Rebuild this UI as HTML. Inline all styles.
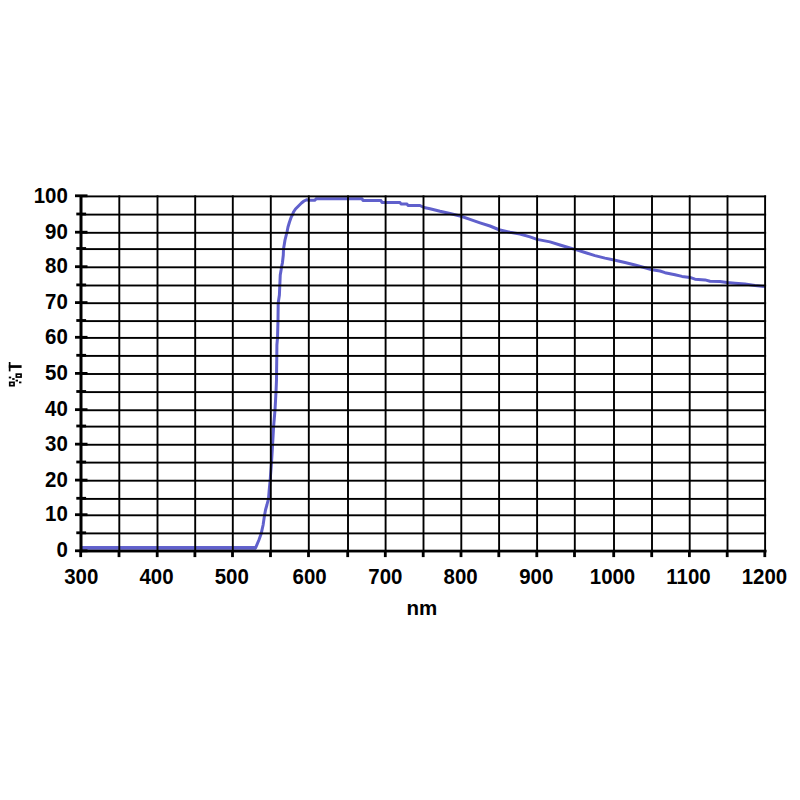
<!DOCTYPE html>
<html><head><meta charset="utf-8"><style>
html,body{margin:0;padding:0;background:#fff;}
body{width:800px;height:800px;overflow:hidden;position:relative;}
svg{position:absolute;left:0;top:0;}
text{font-family:"Liberation Sans",sans-serif;font-weight:bold;font-size:21.3px;fill:#000;}
</style></head><body>
<svg width="800" height="800" viewBox="0 0 800 800">
<rect x="0" y="0" width="800" height="800" fill="#fff"/>
<rect x="81" y="546.1" width="175" height="3.6" fill="#6060cc"/><polyline fill="none" stroke="#6060cc" stroke-width="3" stroke-linejoin="round" points="81,547.8 255.6,547.8 258.9,540 261.25,533.4 263.1,525 264.5,515.4 265.5,510 266.9,505 268.5,498.75 269.2,490 270.1,481 271.5,462.6 272.6,444.75 273.6,426.6 275,410 276,392 276.5,380 276.6,370 276.8,356 276.9,345 277.5,338 278,320 278.2,303 279.4,295 279.8,285.3 280.25,275 281.1,270 281.5,267 282.4,263 283.3,255 283.5,249 284.2,245 285,240 287,232 288,227 289.5,222 291.25,217 292.5,214.75 293.5,212 295.5,209 298.5,206 301.5,203 304,201 306.5,199.8 309,200.3 315,200.2 316,198.8 362,198.8 363,200.6 381,200.6 382,202.5 400,202.5 401,204 407,204 408,205.5 420,205.5 424,207.5 430,208.75 440,211.25 450,213.5 461,216.25 470,219.4 480,222.8 490,226 499,229.75 510,232.25 520,234 530,236.9 537,239.4 550,241.9 560,245 570,248 575,249.4 585,252.5 595,255.6 605,258.1 614,260 625,262.5 635,265 645,267.75 652,269.75 660,271 665,272.7 675,274.7 682,276.4 690,277.4 695,279.2 705,279.9 710,281.25 720,281.5 727,282.6 735,283.3 745,284 755,285.4 765,286.5"/>
<rect x="81.2" y="195.45" width="684.9" height="1.9" fill="#000"/><rect x="81.2" y="213.65" width="684.9" height="1.9" fill="#000"/><rect x="81.2" y="231.85" width="684.9" height="1.9" fill="#000"/><rect x="81.2" y="248.15" width="684.9" height="1.9" fill="#000"/><rect x="81.2" y="266.35" width="684.9" height="1.9" fill="#000"/><rect x="81.2" y="284.55" width="684.9" height="1.9" fill="#000"/><rect x="81.2" y="302.25" width="684.9" height="1.9" fill="#000"/><rect x="81.2" y="320.15" width="684.9" height="1.9" fill="#000"/><rect x="81.2" y="336.95" width="684.9" height="1.9" fill="#000"/><rect x="81.2" y="354.95" width="684.9" height="1.9" fill="#000"/><rect x="81.2" y="373.05" width="684.9" height="1.9" fill="#000"/><rect x="81.2" y="391.15" width="684.9" height="1.9" fill="#000"/><rect x="81.2" y="409.30" width="684.9" height="1.9" fill="#000"/><rect x="81.2" y="425.65" width="684.9" height="1.9" fill="#000"/><rect x="81.2" y="443.80" width="684.9" height="1.9" fill="#000"/><rect x="81.2" y="461.65" width="684.9" height="1.9" fill="#000"/><rect x="81.2" y="479.75" width="684.9" height="1.9" fill="#000"/><rect x="81.2" y="497.95" width="684.9" height="1.9" fill="#000"/><rect x="81.2" y="514.35" width="684.9" height="1.9" fill="#000"/><rect x="81.2" y="532.45" width="684.9" height="1.9" fill="#000"/><rect x="118.35" y="195.4" width="1.9" height="355.2" fill="#000"/><rect x="156.55" y="195.4" width="1.9" height="355.2" fill="#000"/><rect x="194.25" y="195.4" width="1.9" height="355.2" fill="#000"/><rect x="231.85" y="195.4" width="1.9" height="355.2" fill="#000"/><rect x="269.85" y="195.4" width="1.9" height="355.2" fill="#000"/><rect x="307.85" y="195.4" width="1.9" height="355.2" fill="#000"/><rect x="347.05" y="195.4" width="1.9" height="355.2" fill="#000"/><rect x="384.65" y="195.4" width="1.9" height="355.2" fill="#000"/><rect x="422.55" y="195.4" width="1.9" height="355.2" fill="#000"/><rect x="460.35" y="195.4" width="1.9" height="355.2" fill="#000"/><rect x="498.15" y="195.4" width="1.9" height="355.2" fill="#000"/><rect x="536.15" y="195.4" width="1.9" height="355.2" fill="#000"/><rect x="573.85" y="195.4" width="1.9" height="355.2" fill="#000"/><rect x="613.05" y="195.4" width="1.9" height="355.2" fill="#000"/><rect x="651.05" y="195.4" width="1.9" height="355.2" fill="#000"/><rect x="688.75" y="195.4" width="1.9" height="355.2" fill="#000"/><rect x="726.55" y="195.4" width="1.9" height="355.2" fill="#000"/><rect x="764.15" y="195.4" width="1.9" height="355.2" fill="#000"/>
<rect x="79.5" y="195.2" width="3" height="357" fill="#000"/><rect x="79.5" y="549.7" width="687" height="2.75" fill="#000"/><rect x="75" y="194.40" width="12.5" height="2.8" fill="#000"/><rect x="76.3" y="212.60" width="9.8" height="2.8" fill="#000"/><rect x="75" y="230.80" width="12.5" height="2.8" fill="#000"/><rect x="76.3" y="247.10" width="9.8" height="2.8" fill="#000"/><rect x="75" y="265.30" width="12.5" height="2.8" fill="#000"/><rect x="76.3" y="283.50" width="9.8" height="2.8" fill="#000"/><rect x="75" y="301.20" width="12.5" height="2.8" fill="#000"/><rect x="76.3" y="319.10" width="9.8" height="2.8" fill="#000"/><rect x="75" y="335.90" width="12.5" height="2.8" fill="#000"/><rect x="76.3" y="353.90" width="9.8" height="2.8" fill="#000"/><rect x="75" y="372.00" width="12.5" height="2.8" fill="#000"/><rect x="76.3" y="390.10" width="9.8" height="2.8" fill="#000"/><rect x="75" y="408.25" width="12.5" height="2.8" fill="#000"/><rect x="76.3" y="424.60" width="9.8" height="2.8" fill="#000"/><rect x="75" y="442.75" width="12.5" height="2.8" fill="#000"/><rect x="76.3" y="460.60" width="9.8" height="2.8" fill="#000"/><rect x="75" y="478.70" width="12.5" height="2.8" fill="#000"/><rect x="76.3" y="496.90" width="9.8" height="2.8" fill="#000"/><rect x="75" y="513.30" width="12.5" height="2.8" fill="#000"/><rect x="76.3" y="531.40" width="9.8" height="2.8" fill="#000"/><rect x="75" y="549.40" width="12.5" height="2.8" fill="#000"/><rect x="79.30" y="550" width="2.8" height="7.1" fill="#000"/><rect x="117.60" y="550" width="2.8" height="7.1" fill="#000"/><rect x="155.80" y="550" width="2.8" height="7.1" fill="#000"/><rect x="193.50" y="550" width="2.8" height="7.1" fill="#000"/><rect x="231.10" y="550" width="2.8" height="7.1" fill="#000"/><rect x="269.10" y="550" width="2.8" height="7.1" fill="#000"/><rect x="307.10" y="550" width="2.8" height="7.1" fill="#000"/><rect x="346.30" y="550" width="2.8" height="7.1" fill="#000"/><rect x="383.90" y="550" width="2.8" height="7.1" fill="#000"/><rect x="421.80" y="550" width="2.8" height="7.1" fill="#000"/><rect x="459.60" y="550" width="2.8" height="7.1" fill="#000"/><rect x="497.40" y="550" width="2.8" height="7.1" fill="#000"/><rect x="535.40" y="550" width="2.8" height="7.1" fill="#000"/><rect x="573.10" y="550" width="2.8" height="7.1" fill="#000"/><rect x="612.30" y="550" width="2.8" height="7.1" fill="#000"/><rect x="650.30" y="550" width="2.8" height="7.1" fill="#000"/><rect x="688.00" y="550" width="2.8" height="7.1" fill="#000"/><rect x="725.80" y="550" width="2.8" height="7.1" fill="#000"/><rect x="763.40" y="550" width="2.8" height="7.1" fill="#000"/>
<text transform="translate(67.8,557.00) scale(0.96,1)" text-anchor="end">0</text><text transform="translate(67.8,521.35) scale(0.96,1)" text-anchor="end">10</text><text transform="translate(67.8,487.00) scale(0.96,1)" text-anchor="end">20</text><text transform="translate(67.8,451.00) scale(0.96,1)" text-anchor="end">30</text><text transform="translate(67.8,416.10) scale(0.96,1)" text-anchor="end">40</text><text transform="translate(67.8,380.00) scale(0.96,1)" text-anchor="end">50</text><text transform="translate(67.8,343.85) scale(0.96,1)" text-anchor="end">60</text><text transform="translate(67.8,308.85) scale(0.96,1)" text-anchor="end">70</text><text transform="translate(67.8,273.20) scale(0.96,1)" text-anchor="end">80</text><text transform="translate(67.8,239.10) scale(0.96,1)" text-anchor="end">90</text><text transform="translate(67.8,202.60) scale(0.96,1)" text-anchor="end">100</text><text transform="translate(81.25,583.6) scale(0.96,1)" text-anchor="middle">300</text><text transform="translate(156.50,583.6) scale(0.96,1)" text-anchor="middle">400</text><text transform="translate(231.75,583.6) scale(0.96,1)" text-anchor="middle">500</text><text transform="translate(309.60,583.6) scale(0.96,1)" text-anchor="middle">600</text><text transform="translate(385.40,583.6) scale(0.96,1)" text-anchor="middle">700</text><text transform="translate(460.60,583.6) scale(0.96,1)" text-anchor="middle">800</text><text transform="translate(536.25,583.6) scale(0.96,1)" text-anchor="middle">900</text><text transform="translate(612.50,583.6) scale(0.96,1)" text-anchor="middle">1000</text><text transform="translate(688.50,583.6) scale(0.96,1)" text-anchor="middle">1100</text><text transform="translate(764.40,583.6) scale(0.96,1)" text-anchor="middle">1200</text><text x="421.9" y="615" text-anchor="middle" style="font-size:20.5px">nm</text><g fill="#000"><rect x="8.8" y="362" width="1.7" height="9.4"/><rect x="8.8" y="365.2" width="12.8" height="2.7"/><rect x="16.35" y="374.15" width="4.7" height="2.9" fill="none" stroke="#000" stroke-width="1.7"/><rect x="9.75" y="382.35" width="4.3" height="3.3" fill="none" stroke="#000" stroke-width="1.7"/><rect x="8.8" y="376.6" width="2.4" height="1.8"/><rect x="12.2" y="378.1" width="2.4" height="1.8"/><rect x="15.6" y="379.7" width="2.4" height="1.8"/><rect x="19.0" y="381.5" width="2.4" height="1.8"/></g>
</svg>
</body></html>
